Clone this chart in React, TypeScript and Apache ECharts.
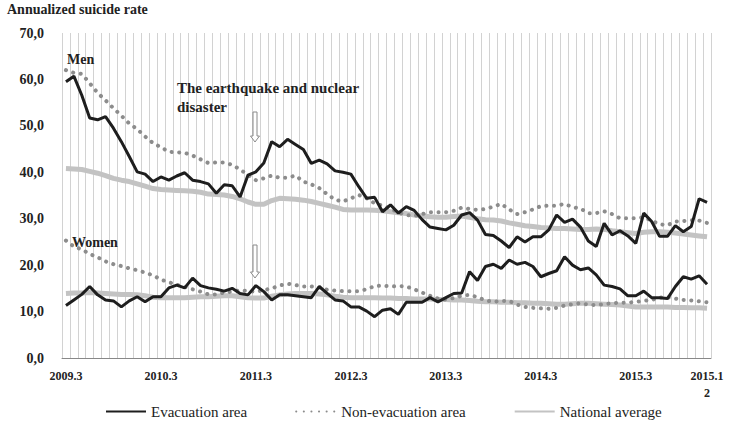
import React, { useEffect, useRef } from "react";
import * as echarts from "echarts";

const months: string[] = [];
for (let y = 2009; y <= 2015; y++) {
  for (let m = y === 2009 ? 3 : 1; m <= 12; m++) months.push(`${y}.${m}`);
}

const tickLabels = ["2009.3", "2010.3", "2011.3", "2012.3", "2013.3", "2014.3", "2015.3", "2015.12"];
const yTicks = [0, 10, 20, 30, 40, 50, 60, 70];

const menEvac = [
  59.5, 60.7, 56.6, 51.7, 51.3, 52.0, 49.5, 46.6, 43.4, 40.1,
  39.6, 38.0, 39.0, 38.3, 39.2, 39.9, 38.3, 38.0, 37.5, 35.5,
  37.3, 37.1, 34.7, 39.4, 40.1, 42.0, 46.6, 45.5, 47.1, 46.0,
  44.9, 41.9, 42.6, 41.8, 40.3, 40.0, 39.6, 36.9, 34.4, 34.6,
  31.5, 33.0, 31.2, 32.6, 31.8, 29.8, 28.2, 27.9, 27.6, 28.6,
  30.8, 31.3, 29.7, 26.6, 26.4, 25.2, 23.8, 26.1, 25.0, 26.1,
  26.1, 27.6, 30.8, 29.2, 29.9, 28.2, 25.2, 24.0, 29.0, 26.5,
  27.4, 26.3, 24.7, 31.2, 29.4, 26.2, 26.2, 28.5, 27.2, 28.3,
  34.3, 33.5,
];
const menNon = [
  62.0, 61.4, 61.2, 59.2, 57.1, 55.5, 53.8, 52.2, 50.5, 49.3,
  47.7, 46.3, 45.4, 44.4, 44.3, 44.2, 43.6, 42.8, 42.0, 42.1,
  42.1, 41.6, 40.6, 39.4, 38.3, 38.7, 39.3, 38.8, 38.8, 39.3,
  38.0, 37.4, 36.6, 35.3, 34.1, 33.7, 34.4, 35.1, 34.4, 33.3,
  32.8, 32.2, 31.3, 30.8, 30.6, 31.0, 31.4, 31.4, 31.4, 31.7,
  32.4, 32.1, 31.9, 32.1, 32.6, 33.2, 32.0, 31.0, 31.4, 32.0,
  32.7, 32.8, 32.8, 33.2, 32.5, 32.2, 31.2, 31.2, 31.6, 31.0,
  30.1, 30.1, 30.1, 30.3, 29.6, 28.8, 28.6, 29.4, 29.5, 29.7,
  29.6, 29.1,
];
const menNat = [
  40.8, 40.7, 40.6, 40.2, 39.8, 39.3, 38.7, 38.3, 38.0, 37.5,
  37.0, 36.5, 36.3, 36.2, 36.1, 36.0, 35.9, 35.7, 35.3, 35.2,
  35.1, 34.8, 34.3, 33.6, 33.1, 33.1, 33.9, 34.4, 34.3, 34.2,
  34.0, 33.7, 33.3, 32.9, 32.5, 32.0, 31.9, 31.9, 31.9, 31.8,
  31.7, 31.5, 31.3, 31.1, 30.8, 30.6, 30.4, 30.3, 30.3, 30.5,
  30.6, 30.3, 30.0, 29.8, 29.7, 29.5, 29.1, 28.8, 28.5, 28.3,
  28.1, 28.0, 27.9, 27.9, 27.8, 27.7, 27.7, 27.8, 27.7, 27.4,
  27.2, 27.0, 26.8, 27.1, 27.2, 27.2, 27.1, 26.9, 26.7, 26.5,
  26.3, 26.1,
];
const womenEvac = [
  11.3, 12.5, 13.7, 15.4, 13.6, 12.5, 12.3, 11.0, 12.3, 13.2,
  12.1, 13.2, 13.2, 15.1, 15.7, 15.1, 17.2, 15.6, 15.1, 14.8,
  14.4, 15.0, 13.9, 13.6, 15.6, 14.3, 12.5, 13.6, 13.6, 13.4,
  13.2, 13.0, 15.4, 13.9, 12.5, 12.3, 11.0, 11.0, 10.1, 8.9,
  10.3, 10.6, 9.4, 12.0, 12.0, 12.0, 13.0, 12.1, 13.0, 13.9,
  14.0, 18.6, 16.7, 19.7, 20.2, 19.3, 21.1, 20.2, 20.6, 19.7,
  17.5, 18.2, 18.8, 21.8, 20.0, 19.0, 19.4, 17.9, 15.7, 15.4,
  14.9, 13.4, 13.4, 14.4, 13.0, 13.0, 12.8, 15.4, 17.5, 17.0,
  17.7, 15.9,
];
const womenNon = [
  25.3, 24.0, 23.4, 22.4, 21.7, 20.8, 20.2, 19.8, 19.3, 18.9,
  18.4, 17.8, 16.9, 16.3, 15.8, 15.3, 14.8, 14.3, 13.7, 13.7,
  14.1, 14.3, 14.6, 14.4, 14.3, 14.6, 15.0, 15.6, 16.0, 15.7,
  15.4, 15.4, 15.2, 14.7, 14.5, 14.4, 14.4, 14.4, 14.8, 15.5,
  15.6, 15.4, 15.5, 15.4, 14.8, 14.1, 13.4, 12.8, 12.6, 12.9,
  13.4, 13.6, 13.1, 12.4, 12.1, 12.3, 12.3, 11.5, 11.0, 10.8,
  10.7, 10.6, 10.8, 11.3, 11.6, 11.8, 11.5, 11.4, 11.6, 11.8,
  11.9, 11.9, 12.1, 12.3, 12.5, 13.0, 13.1, 12.8, 12.5, 12.4,
  12.2, 12.0,
];
const womenNat = [
  13.9, 14.0, 14.0, 14.1, 14.0, 13.9, 13.8, 13.7, 13.7, 13.6,
  13.4, 13.1, 13.0, 13.0, 13.0, 13.0, 13.1, 13.2, 13.2, 13.3,
  13.4, 13.4, 13.2, 13.0, 12.9, 12.9, 13.3, 13.6, 13.8, 13.9,
  13.9, 13.9, 13.8, 13.6, 13.3, 13.1, 13.0, 13.0, 13.0, 13.0,
  12.9, 12.9, 12.8, 12.8, 12.7, 12.7, 12.7, 12.6, 12.6, 12.5,
  12.5, 12.4, 12.2, 12.1, 12.1, 12.0, 12.0, 11.9, 11.9, 11.8,
  11.8, 11.7, 11.6, 11.6, 11.7, 11.8, 11.8, 11.7, 11.6, 11.5,
  11.4, 11.2, 11.0, 11.0, 11.0, 11.0, 11.0, 10.9, 10.9, 10.8,
  10.8, 10.7,
];

const SERIF = "'Liberation Serif', 'Times New Roman', serif";
const EVAC = "Evacuation area";
const NON = "Non-evacuation area";
const NAT = "National average";

function arrow(cx: number, top: number, bottom: number) {
  const sw = 2, hw = 4.5, hl = 6;
  return {
    type: "polygon",
    z: 100,
    shape: {
      points: [
        [cx - sw, top], [cx + sw, top], [cx + sw, bottom - hl], [cx + hw, bottom - hl],
        [cx, bottom], [cx - hw, bottom - hl], [cx - sw, bottom - hl],
      ],
    },
    style: { fill: "#fff", stroke: "#8a8a8a", lineWidth: 1 },
  };
}

export default function App() {
  const ref = useRef<HTMLDivElement>(null);
  useEffect(() => {
    if (!ref.current) return;
    const chart = echarts.init(ref.current, null, { renderer: "svg" });
    const natStyle = { color: "#c3c3c3", width: 5 };
    const nonStyle = { color: "#8c8c8c", width: 4, type: [0.1, 7.5], cap: "round" };
    const evacStyle = { color: "#1e1e1e", width: 3 };
    const mk = (name: string, data: number[], ls: any, z: number) => ({
      name, type: "line", data, symbol: "none", z,
      lineStyle: ls, itemStyle: { color: ls.color }, emphasis: { disabled: true },
    });
    chart.setOption({
      animation: false,
      grid: { left: 62, right: 19, top: 33, bottom: 66 },
      legend: {
        data: [EVAC, NON, NAT],
        left: 100, top: 399,
        itemWidth: 40, itemHeight: 12, itemGap: 48,
        itemStyle: { opacity: 0 },
        textStyle: { fontFamily: SERIF, fontSize: 15, color: "#222" },
      },
      xAxis: {
        type: "category",
        data: months,
        boundaryGap: true,
        axisLine: { lineStyle: { color: "#888", width: 1 } },
        axisTick: { show: false },
        splitLine: { show: true, interval: 0, lineStyle: { color: "#d2d2d2", width: 1 } },
        axisLabel: {
          interval: (_i: number, v: string) => tickLabels.includes(v),
          formatter: (v: string) => (v === "2015.12" ? "2015.1\n2" : v),
          fontFamily: SERIF, fontWeight: "bold", fontSize: 12, color: "#222",
          margin: 9, lineHeight: 17,
        },
      },
      yAxis: {
        type: "value",
        min: yTicks[0], max: yTicks[yTicks.length - 1], interval: 10,
        splitLine: { show: false },
        axisLine: { show: false },
        axisTick: { show: false },
        axisLabel: {
          formatter: (v: number) => v.toFixed(1).replace(".", ","),
          fontFamily: SERIF, fontWeight: "bold", fontSize: 14, color: "#222", margin: 18,
        },
      },
      series: [
        mk(NAT, menNat, natStyle, 2),
        mk(NAT, womenNat, natStyle, 2),
        mk(NON, menNon, nonStyle, 3),
        mk(NON, womenNon, nonStyle, 3),
        mk(EVAC, menEvac, evacStyle, 4),
        mk(EVAC, womenEvac, evacStyle, 4),
      ],
      graphic: [
        { type: "text", x: 7, y: 2, style: { text: "Annualized suicide rate", font: `bold 14px ${SERIF}`, fill: "#222" } },
        { type: "text", x: 67, y: 59, z: 100, style: { text: "Men", font: `bold 14px ${SERIF}`, fill: "#222", verticalAlign: "middle" } },
        { type: "text", x: 72, y: 242, z: 100, style: { text: "Women", font: `bold 14px ${SERIF}`, fill: "#222", verticalAlign: "middle" } },
        { type: "text", x: 177, y: 88, z: 100, style: { text: "The earthquake and nuclear", font: `bold 15px ${SERIF}`, fill: "#222", verticalAlign: "middle" } },
        { type: "text", x: 177, y: 107, z: 100, style: { text: "disaster", font: `bold 15px ${SERIF}`, fill: "#222", verticalAlign: "middle" } },
        arrow(255, 112, 142),
        arrow(255, 245, 278),
      ],
    });
    return () => chart.dispose();
  }, []);
  return <div ref={ref} style={{ width: 730, height: 424, position: "absolute", left: 0, top: 0 }} />;
}
